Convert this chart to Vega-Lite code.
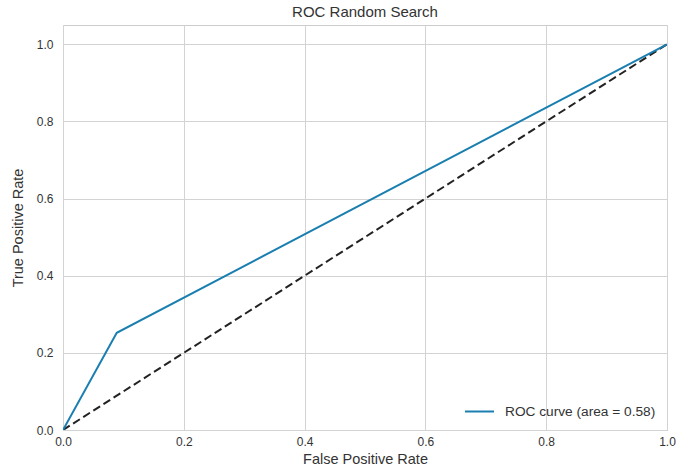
{
  "$schema": "https://vega.github.io/schema/vega-lite/v6.json",
  "width": 604,
  "height": 405,
  "autosize": {"type": "none"},
  "padding": {"left": 63, "top": 25, "right": 9, "bottom": 44},
  "background": "white",
  "title": {"text": "ROC Random Search", "fontSize": 15, "font": "Liberation Sans", "fontWeight": "normal", "color": "#333333", "offset": 5},
  "datasets": {
    "roc": [
      {"fpr": 0.0, "tpr": 0.0, "series": "ROC curve (area = 0.58)"},
      {"fpr": 0.089, "tpr": 0.252, "series": "ROC curve (area = 0.58)"},
      {"fpr": 1.0, "tpr": 1.0, "series": "ROC curve (area = 0.58)"}
    ],
    "diag": [
      {"fpr": 0.0, "tpr": 0.0},
      {"fpr": 1.0, "tpr": 1.0}
    ]
  },
  "config": {
    "view": {"stroke": "#cccccc", "strokeWidth": 1},
    "font": "Liberation Sans",
    "axis": {
      "gridColor": "#d3d3d3",
      "gridWidth": 1,
      "domain": false,
      "ticks": false,
      "labelFontSize": 12,
      "labelColor": "#333333",
      "titleFontSize": 14.5,
      "titleFontWeight": "normal",
      "titleColor": "#333333",
      "labelFont": "Liberation Sans",
      "titleFont": "Liberation Sans",
      "labelFlush": false
    }
  },
  "layer": [
    {
      "data": {"name": "diag"},
      "mark": {"type": "line", "color": "#222222", "strokeWidth": 2, "strokeDash": [8, 4], "clip": true},
      "encoding": {
        "x": {"field": "fpr", "type": "quantitative", "scale": {"domain": [0, 1], "nice": false}, "axis": {"values": [0, 0.2, 0.4, 0.6, 0.8, 1.0], "format": ".1f", "title": "False Positive Rate", "labelPadding": 6, "titlePadding": 5}},
        "y": {"field": "tpr", "type": "quantitative", "scale": {"domain": [0, 1.05], "nice": false}, "axis": {"values": [0, 0.2, 0.4, 0.6, 0.8, 1.0], "format": ".1f", "title": "True Positive Rate", "labelPadding": 10, "titlePadding": 11}}
      }
    },
    {
      "data": {"name": "roc"},
      "mark": {"type": "line", "strokeWidth": 2, "clip": true},
      "encoding": {
        "x": {"field": "fpr", "type": "quantitative"},
        "y": {"field": "tpr", "type": "quantitative"},
        "color": {
          "field": "series", "type": "nominal",
          "scale": {"range": ["#1a7fb0"]},
          "legend": {
            "title": null,
            "orient": "bottom-right",
            "offset": 11,
            "symbolType": "stroke",
            "symbolSize": 841,
            "symbolStrokeWidth": 2,
            "labelFontSize": 13.7,
            "labelColor": "#333333",
            "labelFont": "Liberation Sans",
            "labelOffset": 10
          }
        }
      }
    }
  ]
}
